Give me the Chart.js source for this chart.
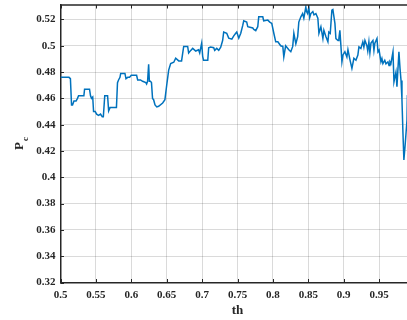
<!DOCTYPE html>
<html>
<head>
<meta charset="utf-8">
<script src="https://cdn.jsdelivr.net/npm/chart.js@4/dist/chart.umd.min.js"></script>
<style>
  html, body { margin: 0; padding: 0; overflow: hidden; background: #fff; }
</style>
</head>
<body>
<canvas id="pc-chart" width="415" height="320"></canvas>
<script>
// threshold values (x)
const thVals = [
  0.500, 0.512, 0.514, 0.5156, 0.517, 0.519, 0.522, 0.524, 0.5255, 0.533,
  0.534, 0.541, 0.5424, 0.5438, 0.5455, 0.5467, 0.549, 0.551, 0.5537, 0.5566,
  0.559, 0.5605, 0.5625, 0.5665, 0.568, 0.570, 0.579, 0.5805, 0.582, 0.584,
  0.585, 0.591, 0.5925, 0.595, 0.5976, 0.600, 0.603, 0.6075, 0.609, 0.613,
  0.616, 0.6205, 0.6216, 0.623, 0.6245, 0.6255, 0.627, 0.6285, 0.630, 0.6315,
  0.6335, 0.636, 0.6386, 0.6443, 0.6475, 0.650, 0.6528, 0.6556, 0.660, 0.6627,
  0.667, 0.671, 0.6725, 0.674, 0.6796, 0.681, 0.684, 0.6867, 0.691, 0.695,
  0.6966, 0.6994, 0.7008, 0.702, 0.708, 0.7093, 0.712, 0.7164, 0.7178, 0.7207,
  0.7235, 0.7263, 0.729, 0.7305, 0.7348, 0.7376, 0.742, 0.7447, 0.7475, 0.749,
  0.7518, 0.7546, 0.7574, 0.7588, 0.763, 0.7645, 0.7716, 0.773, 0.7758, 0.7786,
  0.780, 0.7857, 0.787, 0.7928, 0.7956, 0.7984, 0.8013, 0.804, 0.807, 0.811,
  0.814, 0.8154, 0.818, 0.8225, 0.8253, 0.828, 0.8296, 0.8324, 0.835, 0.8366,
  0.8395, 0.842, 0.8437, 0.8465, 0.8475, 0.849, 0.8508, 0.852, 0.8536, 0.8564,
  0.858, 0.8607, 0.8635, 0.865, 0.8678, 0.8706, 0.872, 0.8748, 0.8777, 0.879,
  0.881, 0.8833, 0.8847, 0.8876, 0.889, 0.892, 0.8932, 0.8946, 0.896, 0.8975,
  0.899, 0.9017, 0.9045, 0.906, 0.9088, 0.9116, 0.9144, 0.9173, 0.920, 0.9215,
  0.9243, 0.927, 0.9285, 0.930, 0.9328, 0.934, 0.9356, 0.937, 0.9385, 0.9413,
  0.9427, 0.944, 0.947, 0.9484, 0.950, 0.9526, 0.954, 0.9554, 0.958, 0.9597,
  0.9625, 0.964, 0.9653, 0.9667, 0.9696, 0.971, 0.9738, 0.9752, 0.978, 0.9795,
  0.981, 0.9823, 0.9837, 0.985, 0.9866, 0.9894, 0.990
];

// Pc values, same order as thVals
const pcVals = [
  0.476, 0.476, 0.475, 0.455, 0.455, 0.458, 0.458, 0.460, 0.462, 0.462,
  0.467, 0.467, 0.462, 0.460, 0.461, 0.450, 0.450, 0.448, 0.447, 0.448,
  0.446, 0.446, 0.462, 0.462, 0.4505, 0.453, 0.453, 0.472, 0.474, 0.476,
  0.479, 0.479, 0.475, 0.476, 0.476, 0.4775, 0.4775, 0.4775, 0.474, 0.474,
  0.473, 0.472, 0.471, 0.473, 0.486, 0.473, 0.473, 0.472, 0.460, 0.459,
  0.455, 0.4535, 0.454, 0.4565, 0.459, 0.470, 0.4815, 0.4865, 0.4875, 0.4905,
  0.4885, 0.4885, 0.494, 0.4995, 0.4995, 0.4945, 0.4965, 0.498, 0.496, 0.497,
  0.4945, 0.502, 0.492, 0.489, 0.489, 0.4985, 0.499, 0.4985, 0.4965, 0.498,
  0.4965, 0.499, 0.504, 0.5105, 0.5095, 0.5058, 0.505, 0.5075, 0.5095, 0.5105,
  0.5058, 0.5095, 0.5155, 0.519, 0.518, 0.5145, 0.5135, 0.5125, 0.5115, 0.5145,
  0.522, 0.522, 0.519, 0.5195, 0.518, 0.517, 0.5095, 0.503, 0.503, 0.500,
  0.4995, 0.4915, 0.500, 0.497, 0.4955, 0.4995, 0.5095, 0.5015, 0.507, 0.518,
  0.522, 0.5245, 0.521, 0.5295, 0.526, 0.5245, 0.5295, 0.5215, 0.5245, 0.526,
  0.5235, 0.5245, 0.521, 0.5095, 0.5145, 0.5055, 0.5118, 0.507, 0.503, 0.5105,
  0.5095, 0.527, 0.5275, 0.517, 0.5055, 0.504, 0.5055, 0.5118, 0.5005, 0.4878,
  0.493, 0.4955, 0.4915, 0.497, 0.4895, 0.4828, 0.4905, 0.489, 0.493, 0.4992,
  0.498, 0.503, 0.499, 0.504, 0.500, 0.496, 0.503, 0.4947, 0.502, 0.504,
  0.4965, 0.502, 0.5056, 0.4954, 0.4967, 0.4878, 0.4903, 0.4865, 0.489, 0.4863,
  0.4878, 0.485, 0.4878, 0.4865, 0.4954, 0.4726, 0.480, 0.4688, 0.4954, 0.483,
  0.4735, 0.4587, 0.4335, 0.4131, 0.4232, 0.4435, 0.4625
];

const xTicks = [0.5, 0.55, 0.6, 0.65, 0.7, 0.75, 0.8, 0.85, 0.9, 0.95];
const yTicks = [0.32, 0.34, 0.36, 0.38, 0.4, 0.42, 0.44, 0.46, 0.48, 0.5, 0.52];

const axisColor = '#262626';
const fontFamily = '"Liberation Serif", "DejaVu Serif", serif';

const points = thVals.map((t, i) => ({ x: t, y: pcVals[i] }));

// box line on top, inward tick marks and the P_c label
const boxPlugin = {
  id: 'boxPlugin',
  afterDraw(chart) {
    const { ctx, chartArea: a, scales } = chart;
    ctx.save();
    ctx.strokeStyle = axisColor;
    ctx.lineWidth = 1.5;
    ctx.beginPath();
    ctx.moveTo(a.left, a.top);
    ctx.lineTo(a.right, a.top);
    ctx.stroke();

    ctx.lineWidth = 1;
    ctx.beginPath();
    xTicks.forEach((v) => {
      const px = Math.round(scales.x.getPixelForValue(v)) + 0.5;
      ctx.moveTo(px, a.bottom);
      ctx.lineTo(px, a.bottom - 3.5);
      ctx.moveTo(px, a.top);
      ctx.lineTo(px, a.top + 3.5);
    });
    yTicks.forEach((v) => {
      const py = Math.round(scales.y.getPixelForValue(v)) + 0.5;
      ctx.moveTo(a.left, py);
      ctx.lineTo(a.left + 3.5, py);
    });
    ctx.stroke();

    // y axis title P with subscript c
    ctx.translate(23, 150);
    ctx.rotate(-Math.PI / 2);
    ctx.fillStyle = axisColor;
    ctx.textBaseline = 'alphabetic';
    ctx.font = 'bold 13px ' + fontFamily;
    ctx.fillText('P', 0, 0);
    ctx.font = 'bold 9px ' + fontFamily;
    ctx.fillText('c', 9, 5);
    ctx.restore();
  },
};

const pcCanvas = document.getElementById('pc-chart');

const pcChart = new Chart(pcCanvas, {
  type: 'line',
  data: {
    datasets: [
      {
        data: points,
        borderColor: '#0072BD',
        borderWidth: 1.5,
        pointRadius: 0,
        tension: 0,
        fill: false,
      },
    ],
  },
  options: {
    responsive: false,
    animation: false,
    events: [],
    layout: {
      padding: { top: 5, right: 0.5, left: 0, bottom: 0 },
    },
    plugins: {
      legend: { display: false },
      tooltip: { enabled: false },
    },
    scales: {
      x: {
        type: 'linear',
        min: 0.5,
        max: 1.0,
        afterBuildTicks: (scale) => {
          scale.ticks = xTicks.map((v) => ({ value: v }));
        },
        afterFit: (scale) => {
          scale.height = 37.5;
          scale.paddingLeft = 0;
          scale.paddingRight = 0;
        },
        grid: {
          color: 'rgba(38, 38, 38, 0.17)',
          lineWidth: 1,
          drawTicks: false,
        },
        border: { color: axisColor, width: 1.5 },
        ticks: {
          padding: 6,
          color: axisColor,
          maxRotation: 0,
          font: { family: fontFamily, size: 11, weight: 'bold' },
          callback: (v) => String(+Number(v).toFixed(2)),
        },
        title: {
          display: true,
          text: 'th',
          color: axisColor,
          padding: { top: 0, bottom: 1.5 },
          font: { family: fontFamily, size: 13, weight: 'bold' },
        },
      },
      y: {
        type: 'linear',
        min: 0.32,
        max: 0.531,
        afterBuildTicks: (scale) => {
          scale.ticks = yTicks.map((v) => ({ value: v }));
        },
        afterFit: (scale) => {
          scale.width = 60.5;
          scale.paddingTop = 0;
          scale.paddingBottom = 0;
        },
        grid: {
          color: 'rgba(38, 38, 38, 0.17)',
          lineWidth: 1,
          drawTicks: false,
        },
        border: { color: axisColor, width: 1.5 },
        ticks: {
          padding: 5,
          color: axisColor,
          font: { family: fontFamily, size: 11, weight: 'bold' },
          callback: (v) => String(+Number(v).toFixed(2)),
        },
      },
    },
  },
  plugins: [boxPlugin],
});
</script>
</body>
</html>
